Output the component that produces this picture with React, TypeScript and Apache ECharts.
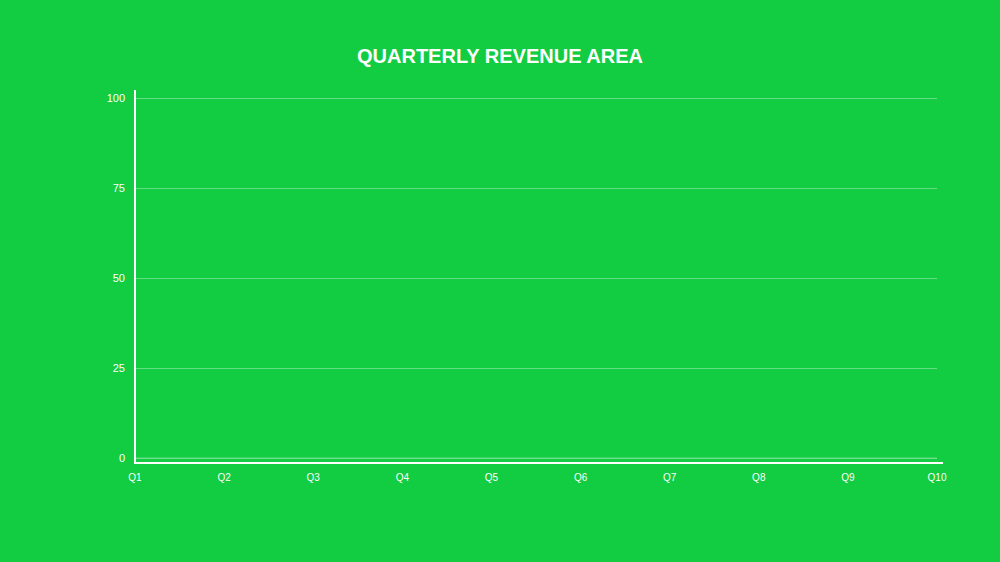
import React, { useEffect, useRef } from "react";
import * as echarts from "echarts";

const categories = ["Q1", "Q2", "Q3", "Q4", "Q5", "Q6", "Q7", "Q8", "Q9", "Q10"];
const revenue = [0, 0, 0, 0, 0, 0, 0, 0, 0, 0];
const yTicks = [0, 25, 50, 75, 100];

export default function App() {
  const ref = useRef<HTMLDivElement>(null);
  useEffect(() => {
    document.body.style.margin = "0";
    const chart = echarts.init(ref.current!, null, { renderer: "svg" });
    chart.setOption({
      animation: false,
      backgroundColor: "#12cc42",
      title: {
        text: "QUARTERLY REVENUE AREA",
        left: "center",
        top: 41,
        textStyle: { color: "#ffffff", fontSize: 20, fontWeight: "bold", fontFamily: "Liberation Sans, Arial, sans-serif" },
      },
      grid: { left: 135, right: 63, top: 98, bottom: 104, containLabel: false },
      xAxis: {
        type: "category",
        data: categories,
        boundaryGap: false,
        offset: 5,
        axisLine: { show: true, onZero: false, lineStyle: { color: "#ffffff", width: 2 } },
        axisTick: { show: false },
        axisLabel: { color: "#ffffff", fontSize: 10, margin: 9, fontFamily: "Liberation Sans, Arial, sans-serif" },
        splitLine: { show: false },
      },
      yAxis: {
        type: "value",
        min: yTicks[0],
        max: yTicks[yTicks.length - 1],
        interval: 25,
        axisLine: { show: true, lineStyle: { color: "#ffffff", width: 2 } },
        axisTick: { show: false },
        axisLabel: { color: "#ffffff", fontSize: 11, margin: 10, fontFamily: "Liberation Sans, Arial, sans-serif" },
        splitLine: { show: true, lineStyle: { color: "rgba(255,255,255,0.35)", width: 1 } },
      },
      graphic: [
        { type: "line", shape: { x1: 135, y1: 90, x2: 135, y2: 464 }, style: { stroke: "#ffffff", lineWidth: 2 } },
        { type: "line", shape: { x1: 134, y1: 463, x2: 943, y2: 463 }, style: { stroke: "#ffffff", lineWidth: 2 } },
      ],
      series: [
        {
          type: "line",
          data: revenue,
          symbol: "none",
          lineStyle: { color: "rgba(255,255,255,0.35)", width: 1 },
          areaStyle: { color: "rgba(255,255,255,0.2)" },
        },
      ],
    });
    return () => chart.dispose();
  }, []);
  return <div ref={ref} style={{ position: "absolute", left: 0, top: 0, width: 1000, height: 562 }} />;
}
